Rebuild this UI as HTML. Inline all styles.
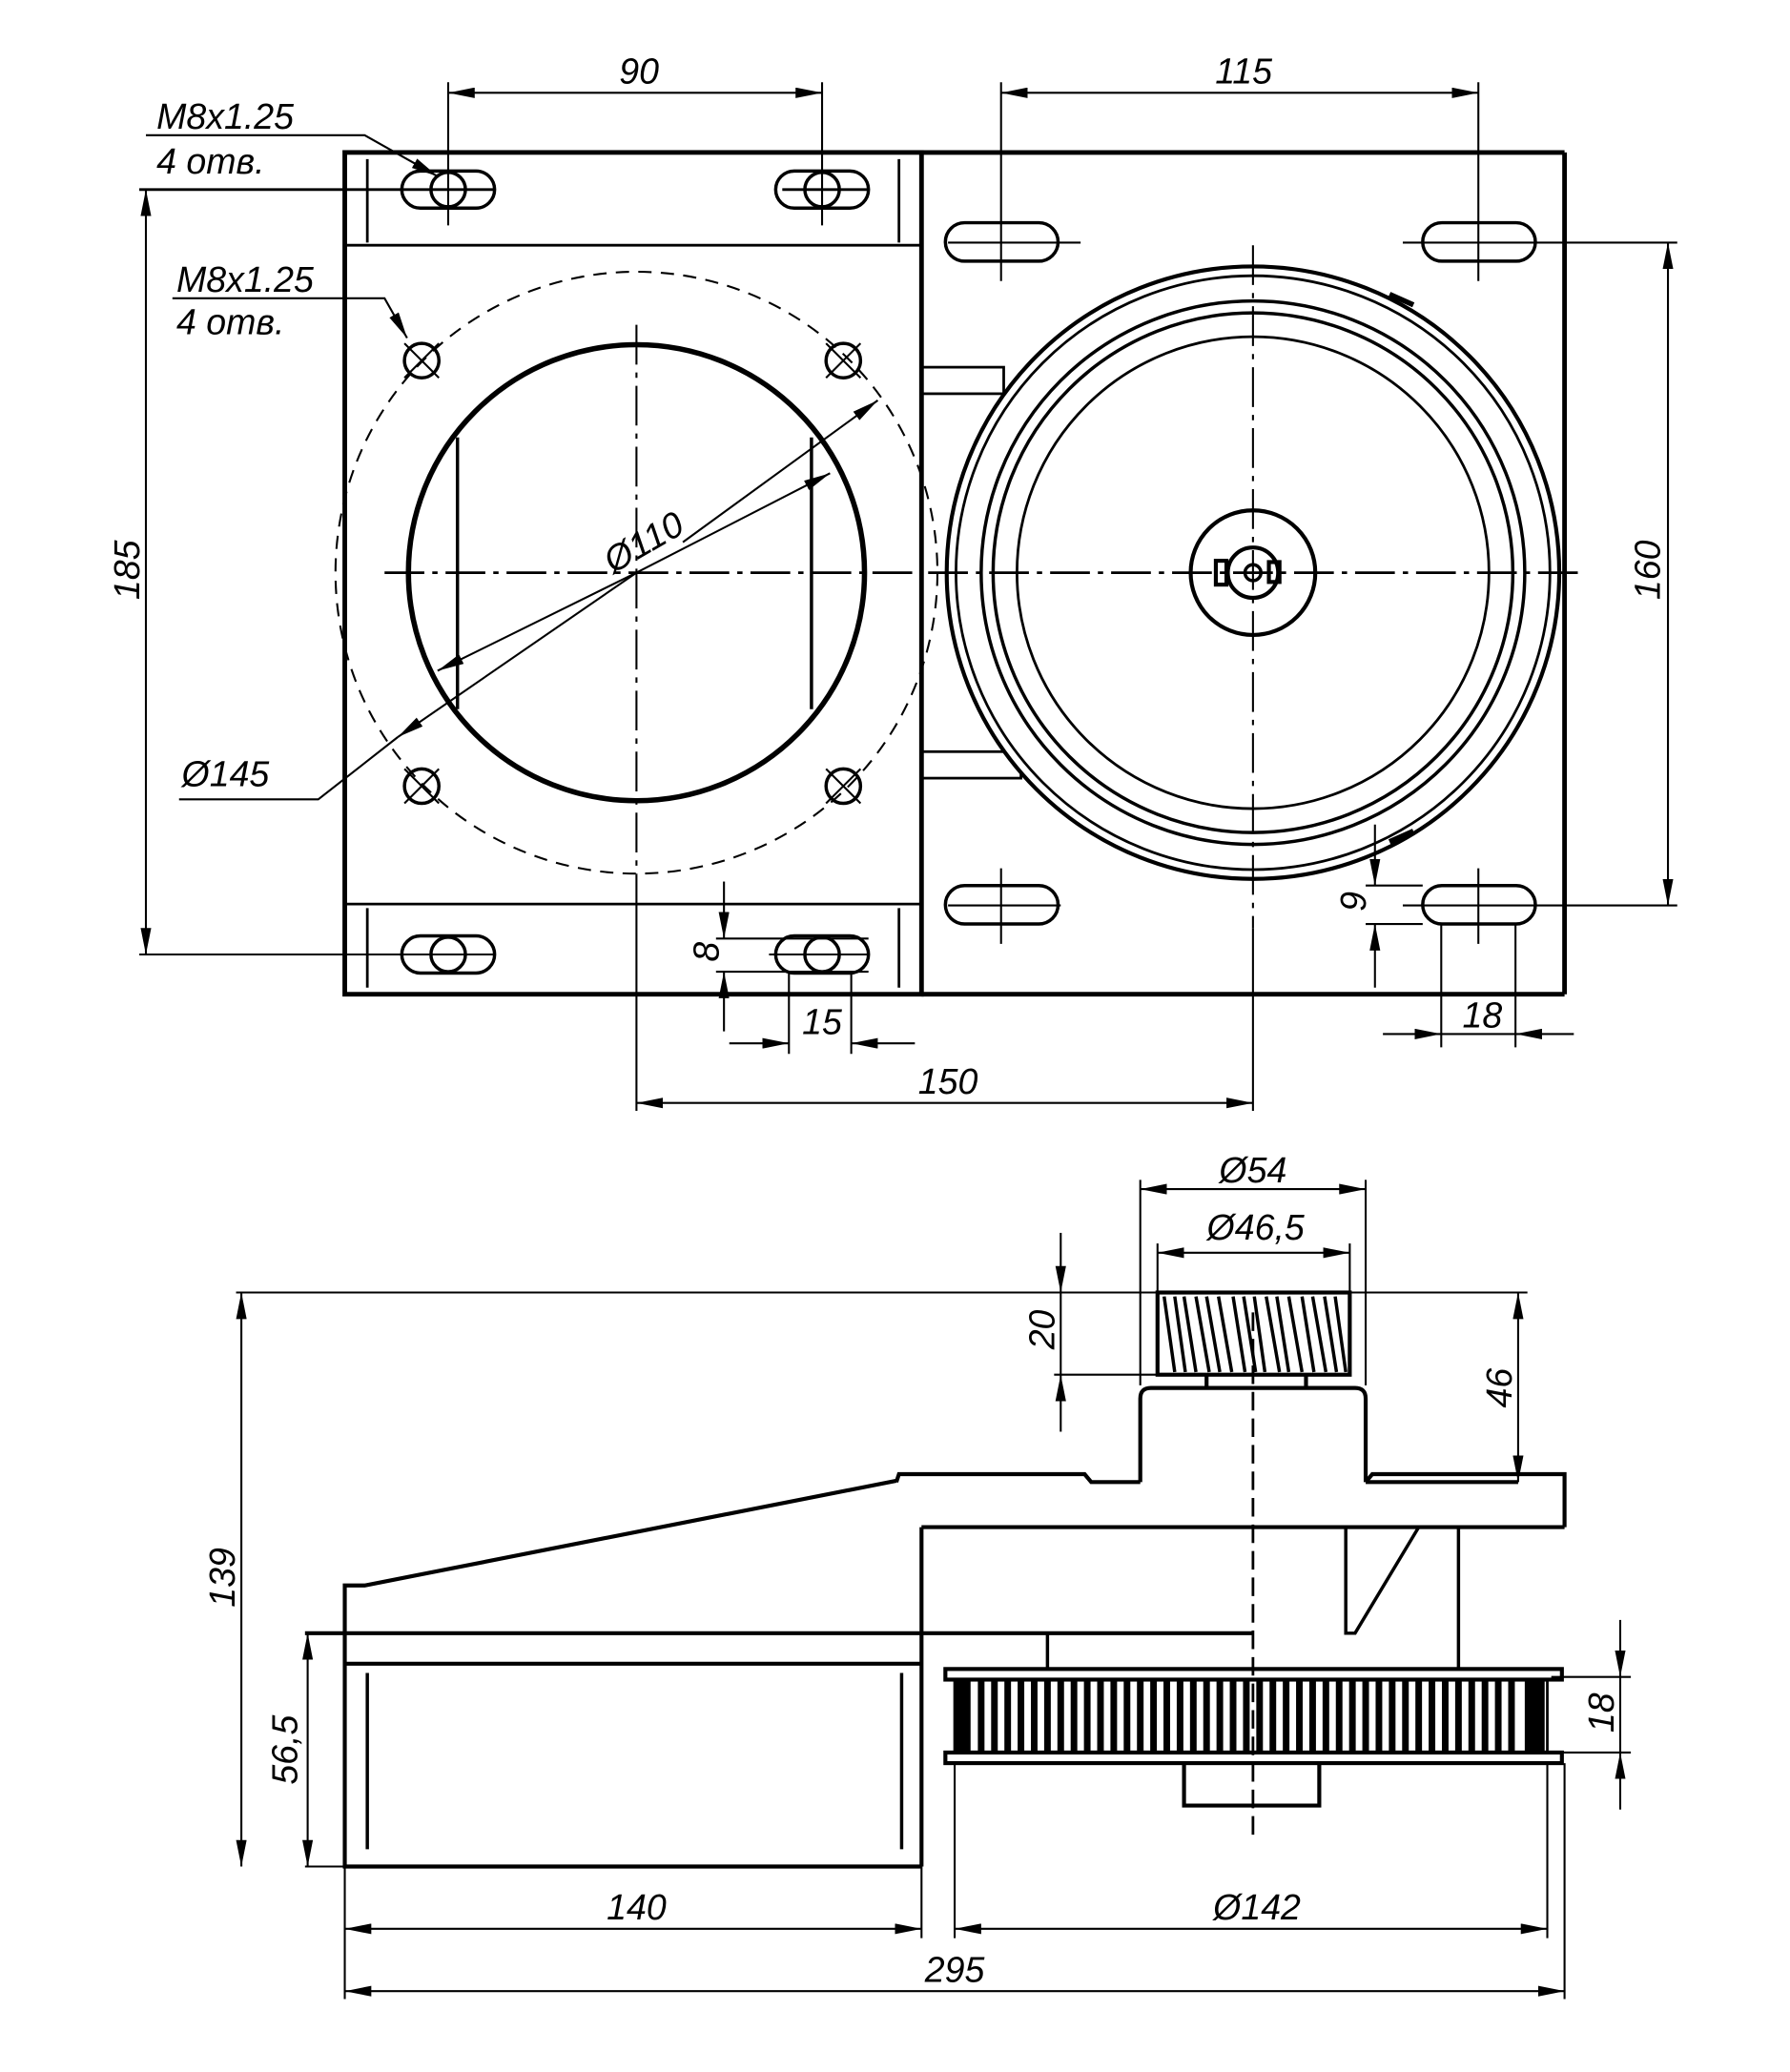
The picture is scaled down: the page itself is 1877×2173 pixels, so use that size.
<!DOCTYPE html>
<html><head><meta charset="utf-8"><style>
html,body{margin:0;padding:0;background:#fff}
svg{display:block}
text{font-family:"Liberation Sans",sans-serif;font-style:italic;font-size:27px;fill:#000}
</style></head><body>
<svg width="1877" height="2173" viewBox="0 0 1350 1563" xmlns="http://www.w3.org/2000/svg">
<defs>
<marker id="a" viewBox="0 0 20 8" refX="20" refY="4" markerWidth="20" markerHeight="8" markerUnits="userSpaceOnUse" orient="auto-start-reverse"><path d="M0,0 L20,4 L0,8 z" fill="#000"/></marker>
</defs>
<g fill="none" stroke="#000" stroke-width="1.5">
<!-- TOP VIEW plates -->
<g stroke-width="3.5">
<rect x="260" y="115" width="435" height="635"/>
<line x1="695" y1="115" x2="1180" y2="115"/>
<line x1="1180" y1="115" x2="1180" y2="750"/>
<line x1="695" y1="750" x2="1180" y2="750"/>
</g>
<line x1="260" y1="185" x2="695" y2="185" stroke-width="2"/>
<line x1="260" y1="682" x2="695" y2="682" stroke-width="2"/>
<line x1="277" y1="120" x2="277" y2="183" stroke-width="2"/>
<line x1="678" y1="120" x2="678" y2="183" stroke-width="2"/>
<line x1="277" y1="685" x2="277" y2="745" stroke-width="2"/>
<line x1="678" y1="685" x2="678" y2="745" stroke-width="2"/>
<!-- slots left plate -->
<g stroke-width="2.5">
<rect x="303" y="129" width="70" height="28" rx="14"/><circle cx="338" cy="143" r="13"/>
<rect x="585" y="129" width="70" height="28" rx="14"/><circle cx="620" cy="143" r="13"/>
<rect x="303" y="706" width="70" height="28" rx="14"/><circle cx="338" cy="720" r="13"/>
<rect x="585" y="706" width="70" height="28" rx="14"/><circle cx="620" cy="720" r="13"/>
<!-- slots right plate -->
<rect x="713" y="168" width="85" height="29" rx="14.5"/>
<rect x="1073" y="168" width="85" height="29" rx="14.5"/>
<rect x="713" y="668" width="85" height="29" rx="14.5"/>
<rect x="1073" y="668" width="85" height="29" rx="14.5"/>
</g>
<!-- extension lines -->
<line x1="338" y1="62" x2="338" y2="170"/><line x1="620" y1="62" x2="620" y2="170"/>
<line x1="338" y1="70" x2="620" y2="70" marker-start="url(#a)" marker-end="url(#a)"/>
<line x1="755" y1="62" x2="755" y2="212"/><line x1="1115" y1="62" x2="1115" y2="212"/>
<line x1="755" y1="70" x2="1115" y2="70" marker-start="url(#a)" marker-end="url(#a)"/>
<line x1="105" y1="143" x2="373" y2="143" stroke-width="2"/>
<line x1="590" y1="143" x2="655" y2="143" stroke-width="2"/>
<line x1="105" y1="720" x2="373" y2="720"/>
<line x1="580" y1="720" x2="655" y2="720"/>
<line x1="110" y1="143" x2="110" y2="720" marker-start="url(#a)" marker-end="url(#a)"/>
<line x1="1058" y1="183" x2="1265" y2="183"/><line x1="1058" y1="683" x2="1265" y2="683"/>
<line x1="1258" y1="183" x2="1258" y2="683" marker-start="url(#a)" marker-end="url(#a)"/>
<line x1="715" y1="183" x2="815" y2="183"/><line x1="715" y1="683" x2="800" y2="683"/>
<line x1="755" y1="655" x2="755" y2="712"/><line x1="1115" y1="655" x2="1115" y2="712"/>
<!-- left circles -->
<circle cx="480" cy="432" r="227" stroke-dasharray="10,7"/>
<circle cx="480" cy="432" r="172" stroke-width="4"/>
<line x1="345" y1="330" x2="345" y2="535" stroke-width="2.5"/>
<line x1="612" y1="330" x2="612" y2="535" stroke-width="2.5"/>
<g stroke-width="2.5">
<circle cx="318" cy="272" r="13"/><circle cx="636" cy="272" r="13"/>
<circle cx="318" cy="593" r="13"/><circle cx="636" cy="593" r="13"/>
</g>
<path d="M305,259 l26,26 M331,259 l-26,26 M623,259 l26,26 M649,259 l-26,26 M305,580 l26,26 M331,580 l-26,26 M623,580 l26,26 M649,580 l-26,26"/>
<line x1="290" y1="432" x2="690" y2="432" stroke-width="2" stroke-dasharray="30,6,4,6"/>
<line x1="480" y1="245" x2="480" y2="660" stroke-width="1.5" stroke-dasharray="30,6,4,6"/>
<line x1="480" y1="660" x2="480" y2="838"/>
<line x1="480" y1="832" x2="945" y2="832" marker-start="url(#a)" marker-end="url(#a)"/>
<line x1="945" y1="700" x2="945" y2="838"/>
<!-- diameter leaders -->
<line x1="515" y1="409" x2="662" y2="302" marker-end="url(#a)"/>
<line x1="480" y1="432" x2="300" y2="556" marker-end="url(#a)"/>
<line x1="480" y1="432" x2="330" y2="506" marker-end="url(#a)"/>
<line x1="480" y1="432" x2="626" y2="357" marker-end="url(#a)"/>
<polyline points="300,556 240,603 135,603"/>
<!-- M8 leaders -->
<polyline points="110,102 275,102 330,133" marker-end="url(#a)"/>
<polyline points="130,225 290,225 307,255" marker-end="url(#a)"/>
<!-- bars between plates -->
<rect x="695" y="277" width="62" height="20" stroke-width="2"/>
<rect x="695" y="567" width="75" height="20" stroke-width="2"/>
<!-- right circles -->
<circle cx="945" cy="432" r="231" stroke-width="3" fill="#fff"/>
<circle cx="945" cy="432" r="224" stroke-width="2"/>
<circle cx="945" cy="432" r="205" stroke-width="2.5"/>
<circle cx="945" cy="432" r="196" stroke-width="2.5"/>
<circle cx="945" cy="432" r="178" stroke-width="2"/>
<circle cx="945" cy="432" r="47" stroke-width="3"/>
<circle cx="945" cy="432" r="19" stroke-width="3"/>
<circle cx="945" cy="432" r="6" stroke-width="2.5"/>
<rect x="917" y="423" width="8" height="18" stroke-width="3"/>
<rect x="957" y="424" width="8" height="15" stroke-width="3"/>
<path d="M1048,222 l18,8 M1048,635 l18,-8" stroke-width="4"/>
<line x1="700" y1="432" x2="1192" y2="432" stroke-width="2" stroke-dasharray="30,6,4,6"/>
<line x1="945" y1="185" x2="945" y2="700" stroke-width="1.5" stroke-dasharray="30,6,4,6"/>
<!-- dims 9, 18, 8, 15 -->
<line x1="1030" y1="668" x2="1073" y2="668"/><line x1="1030" y1="697" x2="1073" y2="697"/>
<line x1="1037" y1="622" x2="1037" y2="668" marker-end="url(#a)"/>
<line x1="1037" y1="745" x2="1037" y2="697" marker-end="url(#a)"/>
<line x1="1087" y1="697" x2="1087" y2="790"/><line x1="1143" y1="697" x2="1143" y2="790"/>
<line x1="1043" y1="780" x2="1087" y2="780" marker-end="url(#a)"/>
<line x1="1187" y1="780" x2="1143" y2="780" marker-end="url(#a)"/>
<line x1="1087" y1="780" x2="1143" y2="780"/>
<line x1="540" y1="708" x2="655" y2="708"/><line x1="540" y1="733" x2="655" y2="733"/>
<line x1="546" y1="665" x2="546" y2="708" marker-end="url(#a)"/>
<line x1="546" y1="778" x2="546" y2="733" marker-end="url(#a)"/>
<line x1="595" y1="733" x2="595" y2="795"/><line x1="642" y1="733" x2="642" y2="795"/>
<line x1="550" y1="787" x2="595" y2="787" marker-end="url(#a)"/>
<line x1="690" y1="787" x2="642" y2="787" marker-end="url(#a)"/>

<!-- BOTTOM VIEW -->
<line x1="860" y1="890" x2="860" y2="1045"/><line x1="1030" y1="890" x2="1030" y2="1045"/>
<line x1="860" y1="897" x2="1030" y2="897" marker-start="url(#a)" marker-end="url(#a)"/>
<line x1="873" y1="938" x2="873" y2="975"/><line x1="1018" y1="938" x2="1018" y2="975"/>
<line x1="873" y1="945" x2="1018" y2="945" marker-start="url(#a)" marker-end="url(#a)"/>
<line x1="178" y1="975" x2="1152" y2="975"/>
<line x1="182" y1="975" x2="182" y2="1408" marker-start="url(#a)" marker-end="url(#a)"/>
<line x1="795" y1="1037" x2="1018" y2="1037"/>
<line x1="800" y1="930" x2="800" y2="975" marker-end="url(#a)"/>
<line x1="800" y1="975" x2="800" y2="1037"/>
<line x1="800" y1="1080" x2="800" y2="1037" marker-end="url(#a)"/>
<line x1="1145" y1="975" x2="1145" y2="1118" marker-start="url(#a)" marker-end="url(#a)"/>
<!-- gear -->
<rect x="873" y="975" width="145" height="62" stroke-width="3"/>
<g stroke-width="2.5">
<path d="M878,978 l8,57 M886,978 l8,57 M893,978 l9,57 M902,978 l10,57 M910,978 l10,57 M919,978 l10,57 M930,978 l9,57 M938,978 l9,57 M946,978 l8,57 M955,978 l10,57 M963,978 l9,57 M972,978 l10,57 M982,978 l9,57 M990,978 l10,57 M999,978 l9,57 M1007,978 l8,57"/>
</g>
<line x1="910" y1="1037" x2="910" y2="1047" stroke-width="3"/>
<line x1="985" y1="1037" x2="985" y2="1047" stroke-width="3"/>
<!-- motor -->
<path d="M860,1118 V1055 Q860,1047 868,1047 H1022 Q1030,1047 1030,1055 V1118" stroke-width="3"/>
<!-- housing -->
<g stroke-width="3">
<polyline points="676,1118 678,1112 818,1112 823,1118 860,1118"/>
<polyline points="1030,1118 1035,1112 1180,1112 1180,1152"/>
<line x1="1030" y1="1118" x2="1145" y2="1118"/>
<polyline points="676,1117 275,1196 260,1196 260,1408 695,1408"/>
<line x1="695" y1="1152" x2="1180" y2="1152"/>
<line x1="695" y1="1152" x2="695" y2="1408"/>
<line x1="230" y1="1232" x2="695" y2="1232"/>
<line x1="260" y1="1255" x2="695" y2="1255"/>
<line x1="695" y1="1232" x2="945" y2="1232"/>
</g>
<line x1="277" y1="1262" x2="277" y2="1395" stroke-width="2.5"/>
<line x1="680" y1="1262" x2="680" y2="1395" stroke-width="2.5"/>
<line x1="790" y1="1232" x2="790" y2="1260" stroke-width="2.5"/>
<line x1="1100" y1="1152" x2="1100" y2="1258" stroke-width="2.5"/>
<polyline points="1015,1152 1015,1232 1022,1232 1070,1152" stroke-width="2.5"/>
<!-- pulley -->
<rect x="713" y="1259" width="465" height="8" stroke-width="3"/>
<rect x="713" y="1322" width="465" height="8" stroke-width="3"/>
<rect x="720" y="1267" width="447" height="55" stroke-width="2"/>
<rect x="720" y="1267" width="12" height="55" fill="#000" stroke="none"/>
<rect x="1150" y="1267" width="15" height="55" fill="#000" stroke="none"/>
<g stroke-width="5">
<path d="M740,1267v55 M750,1267v55 M760,1267v55 M770,1267v55 M780,1267v55 M790,1267v55 M800,1267v55 M810,1267v55 M820,1267v55 M830,1267v55 M840,1267v55 M850,1267v55 M860,1267v55 M870,1267v55 M880,1267v55 M890,1267v55 M900,1267v55 M910,1267v55 M920,1267v55 M930,1267v55 M940,1267v55 M950,1267v55 M960,1267v55 M970,1267v55 M980,1267v55 M990,1267v55 M1000,1267v55 M1010,1267v55 M1020,1267v55 M1030,1267v55 M1040,1267v55 M1050,1267v55 M1060,1267v55 M1070,1267v55 M1080,1267v55 M1090,1267v55 M1100,1267v55 M1110,1267v55 M1120,1267v55 M1130,1267v55 M1140,1267v55"/>
</g>
<path d="M893,1330 V1362 H995 V1330" stroke-width="3"/>
<line x1="945" y1="990" x2="945" y2="1385" stroke-width="2" stroke-dasharray="14,6"/>
<!-- dim 18 right -->
<line x1="1170" y1="1265" x2="1230" y2="1265"/><line x1="1170" y1="1322" x2="1230" y2="1322"/>
<line x1="1222" y1="1222" x2="1222" y2="1265" marker-end="url(#a)"/>
<line x1="1222" y1="1365" x2="1222" y2="1322" marker-end="url(#a)"/>
<line x1="1222" y1="1265" x2="1222" y2="1322"/>
<!-- 56.5 -->
<line x1="230" y1="1408" x2="260" y2="1408"/>
<line x1="232" y1="1232" x2="232" y2="1408" marker-start="url(#a)" marker-end="url(#a)"/>
<!-- bottom dims -->
<line x1="260" y1="1408" x2="260" y2="1508"/>
<line x1="695" y1="1408" x2="695" y2="1462"/>
<line x1="720" y1="1330" x2="720" y2="1462"/>
<line x1="1167" y1="1330" x2="1167" y2="1462"/>
<line x1="1180" y1="1330" x2="1180" y2="1508"/>
<line x1="260" y1="1455" x2="695" y2="1455" marker-start="url(#a)" marker-end="url(#a)"/>
<line x1="720" y1="1455" x2="1167" y2="1455" marker-start="url(#a)" marker-end="url(#a)"/>
<line x1="260" y1="1502" x2="1180" y2="1502" marker-start="url(#a)" marker-end="url(#a)"/>
</g>
<!-- TEXT -->
<text x="482" y="63" text-anchor="middle">90</text>
<text x="938" y="63" text-anchor="middle">115</text>
<text x="118" y="97">M8x1.25</text>
<text x="118" y="131">4 отв.</text>
<text x="133" y="220">M8x1.25</text>
<text x="133" y="252">4 отв.</text>
<text transform="translate(105,430) rotate(-90)" text-anchor="middle">185</text>
<text transform="translate(1252,430) rotate(-90)" text-anchor="middle">160</text>
<text transform="translate(490,417) rotate(-30)" text-anchor="middle">Ø110</text>
<text x="137" y="593">Ø145</text>
<text transform="translate(1030,680) rotate(-90)" text-anchor="middle">9</text>
<text x="1118" y="775" text-anchor="middle">18</text>
<text transform="translate(542,718) rotate(-90)" text-anchor="middle">8</text>
<text x="620" y="780" text-anchor="middle">15</text>
<text x="715" y="825" text-anchor="middle">150</text>
<text x="945" y="892" text-anchor="middle">Ø54</text>
<text x="947" y="935" text-anchor="middle">Ø46,5</text>
<text transform="translate(795,1003) rotate(-90)" text-anchor="middle">20</text>
<text transform="translate(1140,1047) rotate(-90)" text-anchor="middle">46</text>
<text transform="translate(177,1190) rotate(-90)" text-anchor="middle">139</text>
<text transform="translate(224,1320) rotate(-90)" text-anchor="middle">56,5</text>
<text transform="translate(1217,1292) rotate(-90)" text-anchor="middle">18</text>
<text x="480" y="1448" text-anchor="middle">140</text>
<text x="948" y="1448" text-anchor="middle">Ø142</text>
<text x="720" y="1495" text-anchor="middle">295</text>
</svg>
</body></html>
